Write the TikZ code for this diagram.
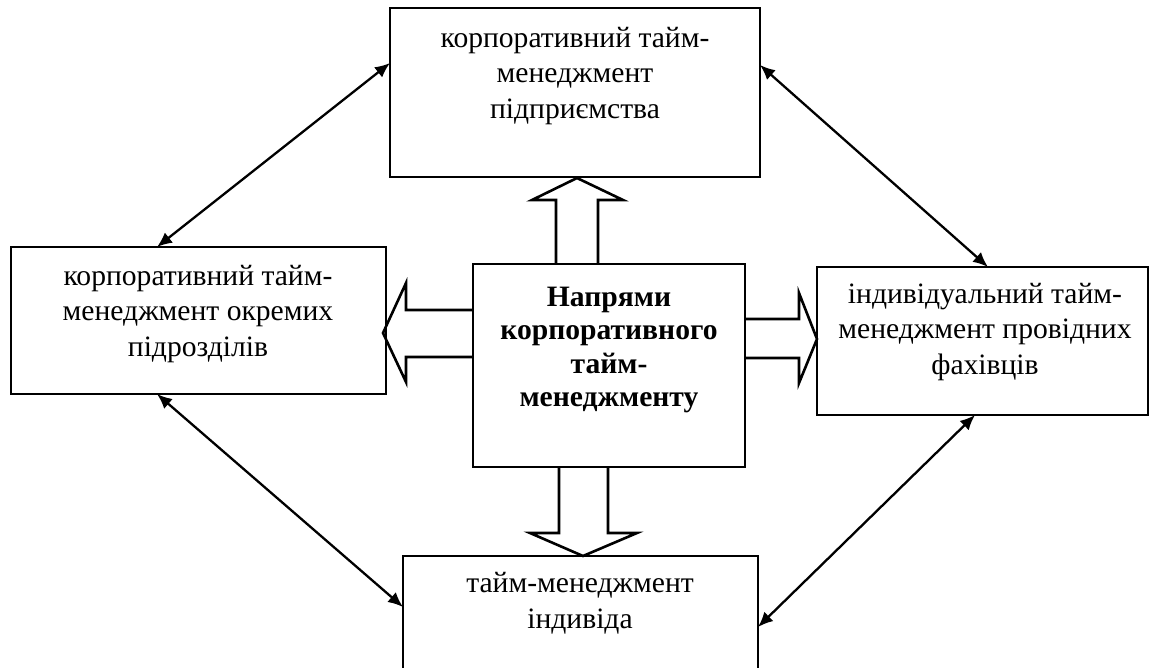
\documentclass[tikz,border=0pt]{standalone}
\usepackage{fontspec}
\setmainfont{Liberation Serif}
\usetikzlibrary{arrows.meta,calc}
\begin{document}
\begin{tikzpicture}[x=0.5pt,y=-0.5pt,
  box/.style={draw, line width=1.3pt, rectangle, inner sep=0pt, outer sep=0pt, anchor=north west},
  txt/.style={align=center, inner sep=0pt, font=\fontsize{14.8pt}{17.8pt}\selectfont},
  bold/.style={txt, font=\fontsize{14.8pt}{16.8pt}\selectfont\bfseries},
  blockarrow/.style={draw, line width=1.3pt, line join=miter},
  link/.style={line width=1.15pt, {Latex[length=7.5pt,width=6.5pt]}-{Latex[length=7.5pt,width=6.5pt]}}
]
\useasboundingbox (0,0) rectangle (1149,668);

% boxes
\node[box, minimum width=185pt, minimum height=84.5pt] (top) at (390,8) {};
\node[box, minimum width=187.5pt, minimum height=73.5pt] (left) at (11,247) {};
\node[box, minimum width=136pt, minimum height=101.5pt] (center) at (473,264) {};
\node[box, minimum width=165.5pt, minimum height=74pt] (right) at (817,267) {};
\node[box, minimum width=177.5pt, minimum height=70pt] (bottom) at (403,556) {};

% labels
\node[txt] (topT) at (575,76) {корпоративний тайм-\\менеджмент\\підприємства};
\node[txt] (leftT) at (198,314) {корпоративний тайм-\\менеджмент окремих\\підрозділів};
\node[bold] (centerT) at (609,350) {Напрями\\корпоративного\\тайм-\\менеджменту};
\node[txt] (rightT) at (985,332) {індивідуальний тайм-\\менеджмент провідних\\фахівців};
\node[txt] (bottomT) at (580,603) {тайм-менеджмент\\індивіда};

% hollow block arrows from the central box
\draw[blockarrow] (556,264) -- (556,200) -- (532,200) -- (577,178) -- (623,200) -- (598,200) -- (598,264);
\draw[blockarrow] (473,310) -- (406,310) -- (406,283) -- (383,333) -- (406,382) -- (406,357) -- (473,357);
\draw[blockarrow] (745,319) -- (799,319) -- (799,293) -- (817,339) -- (799,383) -- (799,358) -- (745,358);
\draw[blockarrow] (559,467) -- (559,533) -- (530,533) -- (583,556) -- (637,533) -- (608,533) -- (608,467);

% two-way links between the outer boxes
\coordinate (tl) at ($(top.north west)+(0,55)$);
\coordinate (lt) at ($(left.north west)+(146,0)$);
\coordinate (tr) at ($(top.north east)+(0,57)$);
\coordinate (rt) at ($(right.north west)+(171,0)$);
\coordinate (lb) at ($(left.south west)+(146,0)$);
\coordinate (bl) at ($(bottom.north west)+(0,51)$);
\coordinate (br) at ($(bottom.north east)+(0,71)$);
\coordinate (rb) at ($(right.south west)+(158,0)$);
\draw[link] (tl) -- (lt);
\draw[link] (tr) -- (rt);
\draw[link] (lb) -- (bl);
\draw[link] (br) -- (rb);
\end{tikzpicture}
\end{document}
